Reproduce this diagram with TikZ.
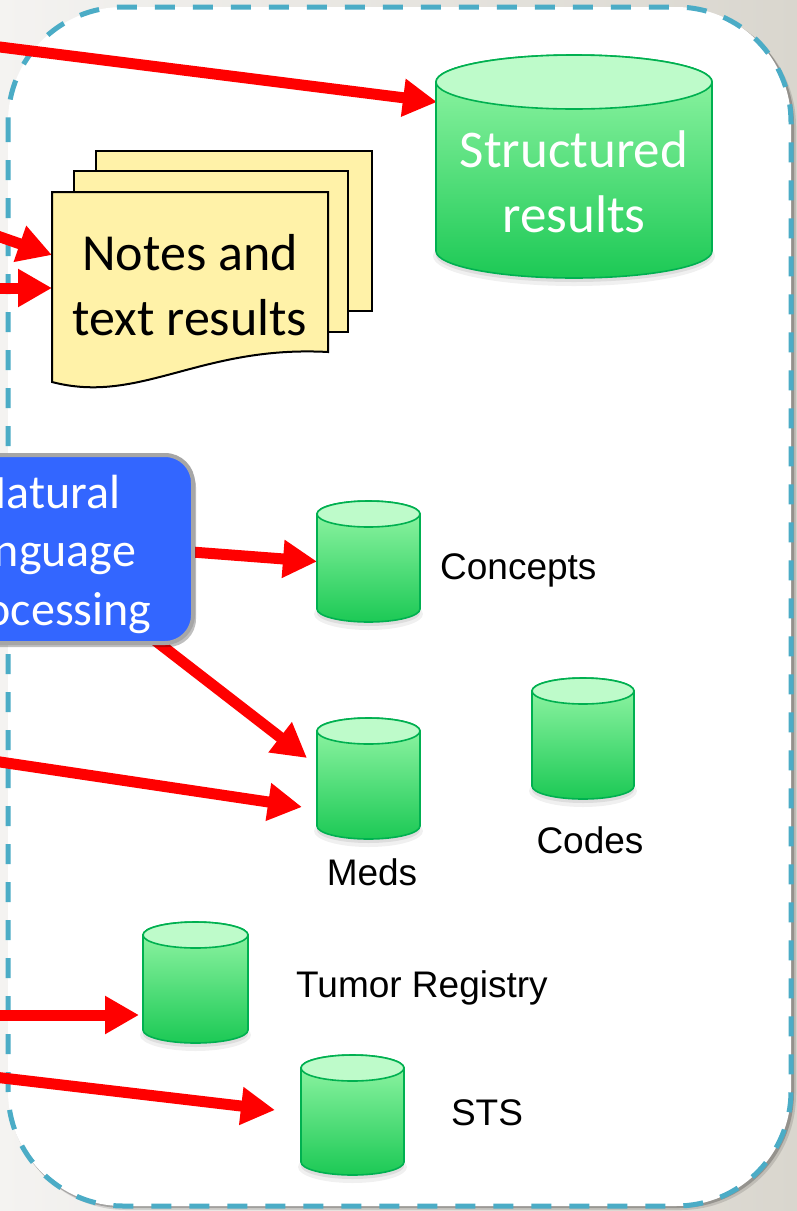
\documentclass[tikz,border=0pt]{standalone}
\usepackage{fontspec}
\setmainfont{Carlito}
\newfontfamily\labelfont{Liberation Sans}
\usetikzlibrary{arrows.meta,calc,shadows}
\pgfdeclarelayer{background}
\pgfdeclarelayer{mid}
\pgfsetlayers{background,mid,main}

\definecolor{bgL}{HTML}{F4F3F1}
\definecolor{bgR}{HTML}{D9D6CE}
\definecolor{dashblue}{HTML}{4BACC6}
\definecolor{nlpblue}{HTML}{3366FF}
\definecolor{nlpedge}{HTML}{A6A6A6}
\definecolor{noteyellow}{HTML}{FFF2A8}
\definecolor{cylTop}{HTML}{96F7A8}
\definecolor{cylBot}{HTML}{1CC955}
\definecolor{cylLid}{HTML}{BEFBCA}
\definecolor{cylEdge}{HTML}{00B050}

\tikzset{
  flow/.style={draw=red, line width=11pt, -{Triangle[length=34pt,width=36pt]}},
  cylbody/.style={top color=cylTop, bottom color=cylBot, draw=cylEdge, line width=1.6pt},
  cyllid/.style={fill=cylLid, draw=cylEdge, line width=1.6pt},
  cylspot/.style={inner sep=0pt, outer sep=0pt, draw=none},
  sheet/.style={fill=noteyellow, draw=black, line width=2pt},
  dblabel/.style={font=\labelfont\fontsize{37}{44}\selectfont, inner sep=0pt},
  bigwhite/.style={text=white, align=center, inner sep=0pt, font=\fontsize{53}{65}\selectfont},
  notetext/.style={text=black, align=center, inner sep=0pt, font=\fontsize{52}{65}\selectfont},
  nlpbox/.style={rounded corners=28pt, fill=nlpblue, draw=nlpedge, line width=4pt,
    minimum width=290pt, minimum height=188pt,
    drop shadow={shadow xshift=3pt, shadow yshift=-4pt, opacity=0.25, fill=black}},
  nlptext/.style={text=white, align=center, inner sep=0pt, font=\fontsize{48}{58.5}\selectfont},
}

% database cylinder: name, centre x, top y (downwards), width, height, lid radius
\newcommand\dbcyl[6]{%
  \pgfmathsetmacro\cL{#2-#4/2}%
  \pgfmathsetmacro\cR{#2+#4/2}%
  \pgfmathsetmacro\cT{-(#3)-(#6)}%
  \pgfmathsetmacro\cB{-(#3)-(#5)+(#6)}%
  \pgfmathsetmacro\cRx{#4/2}%
  \fill[black, opacity=0.06] (#2,\cB-5) ellipse[x radius=\cRx pt+3pt, y radius=#6 pt+3pt];
  \fill[black, opacity=0.08] (#2,\cB-4) ellipse[x radius=\cRx pt, y radius=#6 pt];
  \path[cylbody] (\cL,\cT) -- (\cL,\cB)
     arc[start angle=180, end angle=360, x radius=\cRx pt, y radius=#6 pt]
     -- (\cR,\cT)
     arc[start angle=0, end angle=180, x radius=\cRx pt, y radius=#6 pt] -- cycle;
  \path[cyllid] (#2,\cT) ellipse[x radius=\cRx pt, y radius=#6 pt];
  \node[cylspot, minimum width=#4 pt, minimum height=#5 pt] (#1) at (#2,{-(#3)-(#5)/2}) {};
}

\begin{document}
\begin{tikzpicture}[x=1pt,y=1pt]
\useasboundingbox (0,0) rectangle (797,-1211);

% slide background and the dashed rounded frame
\begin{pgfonlayer}{background}
  \shade[left color=bgL, right color=bgR] (0,0) rectangle (797,-1211);
  \fill[black, opacity=0.12, rounded corners=115pt] (11,-11) rectangle (796,-1210);
  \fill[black, opacity=0.22, rounded corners=115pt] (9,-9) rectangle (794,-1208);
  \fill[white, rounded corners=115pt] (8,-7) rectangle (791,-1206);
  \draw[dashblue, line width=5pt, dash pattern=on 20pt off 18pt, rounded corners=115pt]
    (8,-7) rectangle (791,-1206);
\end{pgfonlayer}

\begin{scope}
\clip (0,0) rectangle (797,-1211);

% structured results store
\dbcyl{structured}{574}{55}{276}{223}{27}
\node[bigwhite, anchor=base] (structuredtxt) at (574,-232) {Structured\\results};

% stack of notes
\path[sheet] (96,-151) rectangle (372,-311);
\path[sheet] (74,-171) rectangle (348,-332);
\path[sheet] (52,-192) -- (328,-192) -- (328,-352)
   .. controls (200,-345) and (140,-405) .. (52,-382) -- cycle;
\node[cylspot, minimum width=276pt, minimum height=190pt] (notes) at (190,-287) {};
\node[notetext, anchor=base] (notestxt) at (190,-335) {Notes and\\text results};

% processing box
\node[nlpbox] (nlp) at (48,-549) {};
\node[nlptext, anchor=base] (nlptxt) at (48,-625) {Natural\\language\\processing};

% small stores
\dbcyl{concepts}{368.5}{501}{103}{121}{13}
\dbcyl{meds}{368.5}{718}{103}{121}{13}
\dbcyl{codes}{583}{678}{102}{121}{13}
\dbcyl{tumor}{195.5}{922}{105}{121}{13}
\dbcyl{sts}{352.5}{1055}{103}{120}{13}

\node[dblabel, anchor=base west] (conceptslbl) at (440,-579) {Concepts};
\node[dblabel, anchor=base] (medslbl) at (372,-885) {Meds};
\node[dblabel, anchor=base] (codeslbl) at (590,-853) {Codes};
\node[dblabel, anchor=base west] (tumorlbl) at (296,-997) {Tumor Registry};
\node[dblabel, anchor=base] (stslbl) at (487,-1125) {STS};
\end{scope}

% flows
\begin{pgfonlayer}{mid}
  \clip (0,0) rectangle (797,-1211);
  \coordinate (in1) at (-40,-42);
  \coordinate (in2) at (-60,-216);
  \coordinate (in3) at (-40,-288);
  \coordinate (in4) at (-40,-756);
  \coordinate (in5) at (-40,-1015);
  \coordinate (in6) at (-40,-1073);
  \draw[flow] (in1) -- ($(structured.north west)+(1,-47)$);
  \draw[flow] (in2) -- ($(notes.west)+(0,32)$);
  \draw[flow] (in3) -- ($(notes.west)+(0,-1)$);
  \draw[flow] ($(nlp.east)+(-3,-3)$) -- (concepts.west);
  \draw[flow] ($(nlp.center)+(82,-72)$) -- ($(meds.west)+(-10,20.5)$);
  \draw[flow] (in4) -- ($(meds.west)+(-15,-28.5)$);
  \draw[flow] (in5) -- ($(tumor.west)+(-4,-32.5)$);
  \draw[flow] (in6) -- ($(sts.west)+(-26,5)$);
\end{pgfonlayer}
\end{tikzpicture}
\end{document}
